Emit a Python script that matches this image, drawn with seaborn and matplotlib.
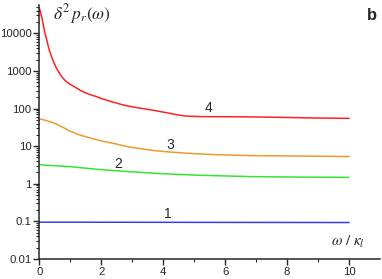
import numpy as np
import pandas as pd
import matplotlib
matplotlib.use("Agg")
import matplotlib.pyplot as plt
import seaborn as sns
from matplotlib.ticker import LogLocator, FixedLocator, NullFormatter

# ---- data ----
x4 = [0.0, 0.02, 0.087, 0.16, 0.24, 0.32, 0.40, 0.48, 0.56, 0.65, 0.75, 0.86, 1.0, 1.18, 1.34, 1.5, 1.66, 1.83, 2.01, 2.3, 2.6, 2.85, 3.09, 3.4, 3.69, 3.95, 4.2, 4.45, 4.75, 5.3, 5.83, 6.9, 8.0, 9.0, 10.0]
y4 = [45000, 42000, 25000, 12300, 6600, 3600, 2350, 1600, 1150, 870, 660, 530, 440, 360, 300, 260, 232, 210, 185, 155, 132, 118, 108, 98, 90, 82, 75, 68, 63, 61, 61, 60, 58, 56, 55]

x3 = [0.0, 0.11, 0.22, 0.38, 0.54, 0.75, 0.97, 1.22, 1.5, 1.78, 2.05, 2.47, 2.87, 3.3, 3.73, 4.2, 4.75, 5.3, 5.8, 6.9, 8.0, 10.0]
y3 = [53, 51, 48, 44, 39, 32, 25.7, 21, 17.8, 15.4, 13.5, 11.5, 9.6, 8.5, 7.6, 7.0, 6.5, 6.15, 5.9, 5.6, 5.5, 5.3]

x2 = [0.0, 1.0, 1.8, 2.7, 3.73, 5.0, 6.8, 8.5, 10.0]
y2 = [3.2, 2.85, 2.45, 2.15, 1.9, 1.7, 1.55, 1.5, 1.48]

x1 = [0.0, 5.0, 10.0]
y1 = [0.095, 0.094, 0.093]

curve_names = ["1", "2", "3", "4"]
y_ticks = [0.01, 0.1, 1, 10, 100, 1000, 10000]
y_tick_labels = ["0.01", "0.1", "1", "10", "100", "1000", "10000"]
x_ticks = [0, 2, 4, 6, 8, 10]

df = pd.concat([
    pd.DataFrame({"x": x1, "y": y1, "curve": curve_names[0]}),
    pd.DataFrame({"x": x2, "y": y2, "curve": curve_names[1]}),
    pd.DataFrame({"x": x3, "y": y3, "curve": curve_names[2]}),
    pd.DataFrame({"x": x4, "y": y4, "curve": curve_names[3]}),
], ignore_index=True)

palette = {"1": "#3a3af0", "2": "#33e633", "3": "#ec9a30", "4": "#ff2222"}

sns.set_style("ticks")
plt.rcParams["font.family"] = ["Liberation Sans", "DejaVu Sans"]
plt.rcParams["mathtext.fontset"] = "stix"

fig = plt.figure(figsize=(3.82, 2.79), dpi=100)
ax = fig.add_axes([0.103, 0.072, 0.892, 0.910])

sns.lineplot(data=df, x="x", y="y", hue="curve", palette=palette,
             legend=False, ax=ax, linewidth=1.1, sort=False)

ax.set_yscale("log")
ax.set_xlim(0, 11)
ax.set_ylim(0.01, 57000)
ax.yaxis.set_major_locator(FixedLocator(y_ticks))
ax.set_yticklabels(y_tick_labels)
ax.yaxis.set_minor_locator(LogLocator(base=10, subs=np.arange(2, 10)))
ax.yaxis.set_minor_formatter(NullFormatter())
ax.xaxis.set_major_locator(FixedLocator(x_ticks))
ax.xaxis.set_minor_locator(FixedLocator([1, 3, 5, 7, 9]))
ax.tick_params(which="major", length=4, width=1, labelsize=8.2, pad=1.5, direction="out")
ax.tick_params(which="minor", length=2, width=0.8, direction="out")
ax.set_xlabel("")
ax.set_ylabel("")
for s in ["top", "right"]:
    ax.spines[s].set_visible(False)
for s in ["left", "bottom"]:
    ax.spines[s].set_linewidth(1.1)

# curve labels
ax.text(4.14, 0.16, "1", fontsize=10, ha="center", va="center")
ax.text(2.55, 3.3, "2", fontsize=10, ha="center", va="center")
ax.text(4.24, 10.7, "3", fontsize=10, ha="center", va="center")
ax.text(5.47, 104, "4", fontsize=10, ha="center", va="center")

ax.text(0.04, 0.965, r"$\delta^2\, p_r(\omega)$", transform=ax.transAxes,
        fontsize=12.5, ha="left", va="center")
ax.text(0.955, 0.065, r"$\omega\ /\ \kappa_l$", transform=ax.transAxes,
        fontsize=11, ha="right", va="center")
ax.text(0.975, 0.96, "b", transform=ax.transAxes, fontsize=12,
        fontweight="bold", ha="center", va="center")

fig.savefig("out.png", dpi=100)
